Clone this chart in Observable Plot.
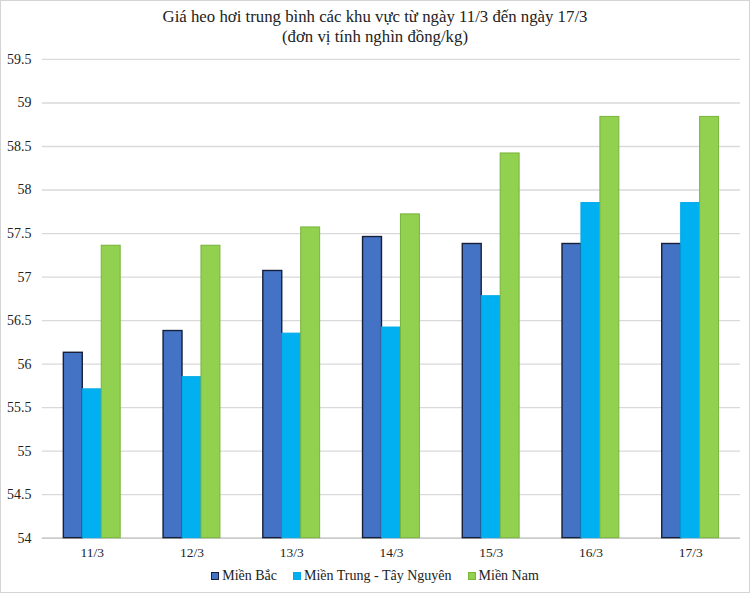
<!DOCTYPE html>
<html>
<head>
<meta charset="utf-8">
<script src="https://cdn.jsdelivr.net/npm/d3@7"></script>
<script src="https://cdn.jsdelivr.net/npm/@observablehq/plot@0.6"></script>
<style>
  html, body { margin: 0; padding: 0; background: #fff; }
  #wrap { position: relative; width: 748px; height: 591px; border: 1px solid #d4d4d4; overflow: hidden; font-family: "Liberation Serif", "Times New Roman", serif; color: #222; }
  #title { position: absolute; left: 0; top: 6px; width: 748px; text-align: center; font-size: 16.8px; line-height: 20px; }
  #chart { position: absolute; left: 0; top: 44px; }
  #chart svg text { font-family: "Liberation Serif", "Times New Roman", serif !important; }
  #legend { position: absolute; left: 0; top: 567px; width: 748px; text-align: center; font-size: 14px; font-family: "Liberation Serif", serif; }
  .item { display: inline-block; margin: 0 8px; }
  .sw { display: inline-block; width: 8px; height: 8px; margin-right: 3px; vertical-align: 0px; box-sizing: border-box; }
</style>
</head>
<body>
<div id="wrap">
  <div id="title">Giá heo hơi trung bình các khu vực từ ngày 11/3 đến ngày 17/3<br>(đơn vị tính nghìn đồng/kg)</div>
  <div id="chart"></div>
  <div id="legend"></div>
</div>
<script>
const dates = ["11/3", "12/3", "13/3", "14/3", "15/3", "16/3", "17/3"];
const series = ["Miền Bắc", "Miền Trung - Tây Nguyên", "Miền Nam"];
const mienBac = [56.13, 56.38, 57.07, 57.46, 57.38, 57.38, 57.38];
const mienTrung = [55.71, 55.85, 56.35, 56.42, 56.78, 57.85, 57.85];
const mienNam = [57.36, 57.36, 57.57, 57.72, 58.42, 58.84, 58.84];
const yTicks = [54, 54.5, 55, 55.5, 56, 56.5, 57, 57.5, 58, 58.5, 59, 59.5];
const fills = ["#4472C4", "#00B0F0", "#92D050"];
const strokes = ["#172038", "#00A8E8", "#78B33A"];
const serif = "Liberation Serif, Times New Roman, serif";

// grouped layout in category units: each category occupies one unit, bars 0.19 wide
const barW = 0.19;
const valuesBySeries = [mienBac, mienTrung, mienNam];
const table = [];
series.forEach((s, i) => dates.forEach((d, j) => table.push({
  idx: j, si: i, series: s, value: valuesBySeries[i][j]
})));

const barMarks = series.map((s, i) => Plot.rectY(table.filter(r => r.si === i), {
  x1: r => r.idx - 1.5 * barW + i * barW,
  x2: r => r.idx - 1.5 * barW + (i + 1) * barW,
  y1: 54, y2: "value",
  fill: fills[i], stroke: strokes[i], strokeWidth: i === 0 ? 1.4 : 1
}));

const chart = Plot.plot({
  width: 750, height: 520,
  marginTop: 14, marginBottom: 26, marginLeft: 41, marginRight: 9,
  style: {fontFamily: serif, fontSize: "13px", background: "transparent", color: "#222"},
  x: {domain: [-0.5, dates.length - 0.5], axis: null},
  y: {domain: [54, 59.5], axis: null},
  marks: [
    Plot.ruleY(yTicks, {y: d => d, stroke: "#d9d9d9", strokeWidth: 1.3}),
    Plot.ruleY([54], {y: d => d, stroke: "#c4c4c4", strokeWidth: 1.3}),
    ...barMarks,
    Plot.axisY(yTicks, {tickSize: 0, tickPadding: 11, tickFormat: d => String(d), label: null, fontSize: 14, fontFamily: serif}),
    Plot.axisX(d3.range(dates.length), {tickSize: 0, tickPadding: 9, tickFormat: j => dates[j], label: null, fontSize: 13.5, fontFamily: serif})
  ]
});
document.getElementById("chart").appendChild(chart);

const legend = document.getElementById("legend");
series.forEach((s, i) => {
  const it = document.createElement("span");
  it.className = "item";
  const sw = document.createElement("span");
  sw.className = "sw";
  sw.style.background = fills[i];
  sw.style.border = "1px solid " + strokes[i];
  it.appendChild(sw);
  it.appendChild(document.createTextNode(s));
  legend.appendChild(it);
});
</script>
</body>
</html>
